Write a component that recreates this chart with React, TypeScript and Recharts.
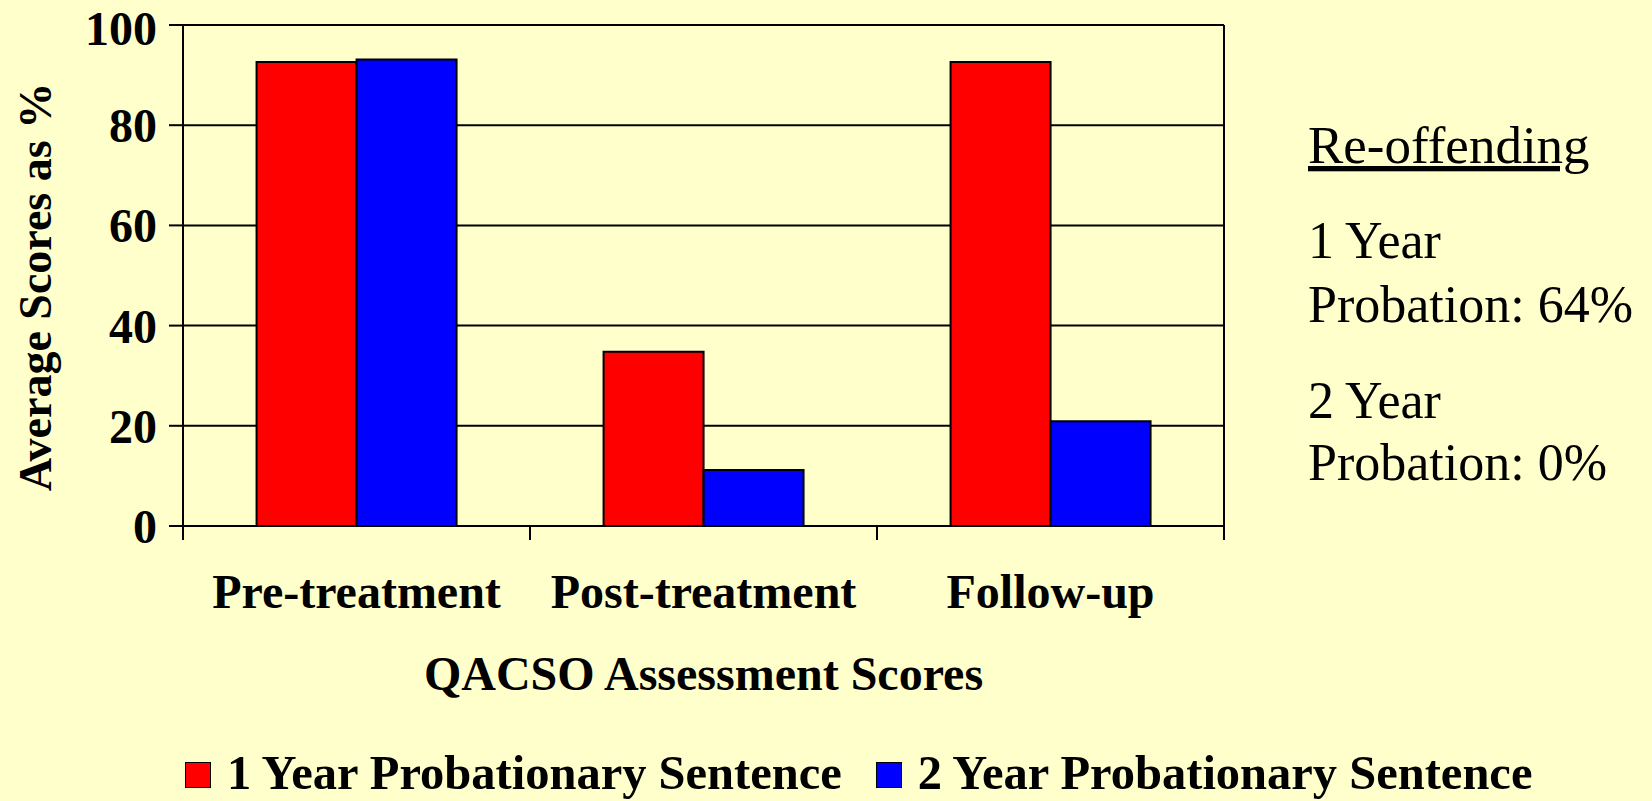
import { BarChart, Bar, XAxis, YAxis, CartesianGrid, Legend } from "recharts";

const categories = ["Pre-treatment", "Post-treatment", "Follow-up"];
const oneYearScores = [92.6, 34.8, 92.6];
const twoYearScores = [93.1, 11.2, 20.9];
const seriesNames = ["1 Year Probationary Sentence", "2 Year Probationary Sentence"];
const yTicks = [0, 20, 40, 60, 80, 100];
const reoffendTitle = "Re-offending";
const reoffendLines = ["1 Year", "Probation: 64%", "2 Year", "Probation: 0%"];

const data = categories.map((category, i) => ({
  category,
  oneYear: oneYearScores[i],
  twoYear: twoYearScores[i],
}));

const W = 1652;
const H = 801;
const PLOT_LEFT = 183;
const PLOT_RIGHT = 1224;
const PLOT_TOP = 25;
const PLOT_BOTTOM = 526;
const X_AXIS_H = 100;
const FONT = "'Times New Roman', 'Liberation Serif', serif";
const BG = "#FFFFCC";

// category ticks sit on the band edges, labels in the middle
function CategoryTick(props: any) {
  const { x, y, payload, index } = props;
  const band = (PLOT_RIGHT - PLOT_LEFT) / categories.length;
  const isLast = index === categories.length - 1;
  return (
    <g>
      <line x1={x - band / 2} x2={x - band / 2} y1={y} y2={y + 14} stroke="#000" strokeWidth={2} />
      {isLast && (
        <line x1={x + band / 2} x2={x + band / 2} y1={y} y2={y + 14} stroke="#000" strokeWidth={2} />
      )}
      <text x={x} y={y + 82} textAnchor="middle" fontFamily={FONT} fontWeight="bold" fontSize={48} fill="#000">
        {payload.value}
      </text>
    </g>
  );
}

function YTitle() {
  const cx = 51;
  const cy = 287;
  return (
    <text
      x={cx}
      y={cy}
      transform={`rotate(-90, ${cx}, ${cy})`}
      textAnchor="middle"
      fontFamily={FONT}
      fontWeight="bold"
      fontSize={46}
      fill="#000"
    >
      Average Scores as %
    </text>
  );
}

function XTitle() {
  return (
    <text
      x={(PLOT_LEFT + PLOT_RIGHT) / 2}
      y={690}
      textAnchor="middle"
      fontFamily={FONT}
      fontWeight="bold"
      fontSize={48}
      fill="#000"
    >
      QACSO Assessment Scores
    </text>
  );
}

function LegendContent(props: any) {
  const items = props.payload || [];
  return (
    <div style={{ display: "flex", alignItems: "center", fontFamily: FONT, fontWeight: "bold", fontSize: 48.5, lineHeight: "48px", whiteSpace: "nowrap" }}>
      {items.map((item: any, i: number) => (
        <div key={i} style={{ display: "flex", alignItems: "center", marginRight: i < items.length - 1 ? 34 : 0 }}>
          <span
            style={{
              display: "inline-block",
              width: 26,
              height: 26,
              boxSizing: "border-box",
              border: "1.5px solid #000",
              background: item.color,
              marginRight: 16,
              marginTop: 4,
            }}
          />
          <span>{item.value}</span>
        </div>
      ))}
    </div>
  );
}

export default function App() {
  const baselines = [258, 322, 418, 480];
  return (
    <div style={{ position: "absolute", left: 0, top: 0, width: W, height: H, background: BG, overflow: "hidden" }}>
      <BarChart
        width={W}
        height={H}
        data={data}
        margin={{ top: PLOT_TOP, left: 0, right: W - PLOT_RIGHT, bottom: H - PLOT_BOTTOM - X_AXIS_H }}
        barCategoryGap="21.2%"
        barGap={0}
      >
        <CartesianGrid
          yAxisId="left"
          stroke="#000"
          strokeWidth={2}
          verticalCoordinatesGenerator={() => [PLOT_RIGHT]}
        />
        <XAxis
          dataKey="category"
          height={X_AXIS_H}
          tickLine={false}
          tickSize={0}
          tickMargin={0}
          axisLine={{ stroke: "#000", strokeWidth: 2 }}
          tick={<CategoryTick />}
          interval={0}
          label={{ content: () => <XTitle /> }}
        />
        <YAxis
          yAxisId="left"
          width={PLOT_LEFT}
          domain={[0, 100]}
          ticks={yTicks}
          tickSize={14}
          tickMargin={12}
          axisLine={{ stroke: "#000", strokeWidth: 2 }}
          tickLine={{ stroke: "#000", strokeWidth: 2 }}
          tick={{ fontFamily: FONT, fontWeight: "bold", fontSize: 48, fill: "#000" }}
          label={{ content: () => <YTitle /> }}
        />
        <Legend
          verticalAlign="middle"
          align="center"
          layout="horizontal"
          wrapperStyle={{ left: 185, top: 749, width: "auto", height: "auto" }}
          content={<LegendContent />}
        />
        <Bar yAxisId="left" dataKey="oneYear" name={seriesNames[0]} fill="#FF0000" stroke="#000" strokeWidth={2} isAnimationActive={false} />
        <Bar yAxisId="left" dataKey="twoYear" name={seriesNames[1]} fill="#0000FF" stroke="#000" strokeWidth={2} isAnimationActive={false} />
      </BarChart>
      <svg width={W} height={H} style={{ position: "absolute", left: 0, top: 0, pointerEvents: "none" }}>
        <text x={1308} y={163} fontFamily={FONT} fontSize={53} fill="#000" textDecoration="underline">
          {reoffendTitle}
        </text>
        {reoffendLines.map((line, i) => (
          <text key={i} x={1308} y={baselines[i]} fontFamily={FONT} fontSize={52} fill="#000">
            {line}
          </text>
        ))}
      </svg>
    </div>
  );
}
